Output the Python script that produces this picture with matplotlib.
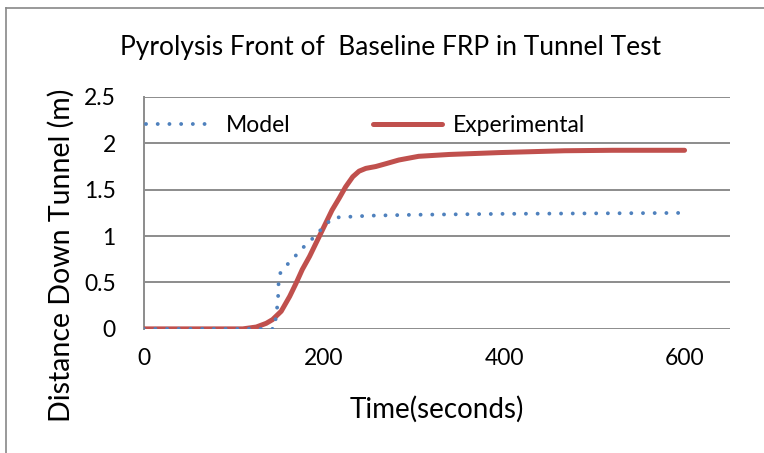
import matplotlib.pyplot as plt
from matplotlib.lines import Line2D

# data
model_t = [0, 100, 145, 149, 150, 157, 166, 175, 184, 194, 202, 212, 250, 300, 400, 500, 600]
model_d = [0, 0, 0, 0.30, 0.58, 0.67, 0.76, 0.86, 0.94, 1.04, 1.13, 1.20, 1.22, 1.23, 1.24, 1.245, 1.25]

exp_t = [0, 100, 110, 125, 136, 143, 152.6, 162, 169, 176, 184, 191, 200, 209, 217, 224, 232,
         239, 246.5, 257.5, 268.6, 283, 294, 305, 339, 394, 467, 520, 600]
exp_d = [0, 0, 0, 0.02, 0.06, 0.10, 0.19, 0.35, 0.49, 0.64, 0.78, 0.92, 1.10, 1.28, 1.41, 1.53, 1.64,
         1.70, 1.73, 1.75, 1.78, 1.82, 1.84, 1.86, 1.88, 1.90, 1.92, 1.925, 1.925]

xticks = [0, 200, 400, 600]
yticks = [0, 0.5, 1, 1.5, 2, 2.5]
ytick_labels = ['0', '0.5', '1', '1.5', '2', '2.5']

plt.rcParams['font.family'] = ['Lato', 'DejaVu Sans']

blue = '#4F81BD'
red = '#C0504D'
grid = '#8C8C8C'

fig = plt.figure(figsize=(7.64, 4.53), dpi=100)
ax = fig.add_axes([0.188, 0.274, 0.767, 0.512])

for y in yticks:
    ax.axhline(y, color=grid, lw=1.4, zorder=1)

ax.plot(exp_t, exp_d, color=red, lw=3.6, solid_capstyle='round', solid_joinstyle='round', zorder=3)
ax.plot(model_t, model_d, color=blue, lw=2.8, linestyle=(0, (0.01, 3.0)), dash_capstyle='round', zorder=4)

ax.set_xlim(0, 650)
ax.set_ylim(0, 2.5)
ax.set_xticks(xticks)
ax.set_yticks(yticks)
ax.set_yticklabels(ytick_labels)
ax.tick_params(length=0, labelsize=16.5)
ax.tick_params(axis='y', pad=20)
ax.tick_params(axis='x', pad=14)
for s in ['top', 'right', 'bottom']:
    ax.spines[s].set_visible(False)
ax.spines['left'].set_color(grid)
ax.spines['left'].set_linewidth(1.4)

ax.set_title('Pyrolysis Front of  Baseline FRP in Tunnel Test', fontsize=19, pad=30, x=0.422)
ax.set_xlabel('Time(seconds)', fontsize=20, labelpad=19)
ax.set_ylabel('Distance Down Tunnel (m)', fontsize=20.5)
ax.yaxis.set_label_coords(-0.118, 0.319)

h_model = Line2D([], [], color=blue, lw=2.8, linestyle=(0, (0.01, 3.0)), dash_capstyle='round')
h_exp = Line2D([], [], color=red, lw=3.6, solid_capstyle='round')
ax.legend([h_model, h_exp], ['Model', 'Experimental'], ncol=2, frameon=False,
          loc='center left', bbox_to_anchor=(-0.012, 0.875), fontsize=16.5,
          handlelength=3.0, handletextpad=0.5, columnspacing=3.6, borderaxespad=0)

# outer chart border (partially visible in the reference)
fig.add_artist(Line2D([6 / 764, 1], [1 - 8 / 453, 1 - 8 / 453], color='#888888', lw=1.2))
fig.add_artist(Line2D([6 / 764, 6 / 764], [0, 1 - 8 / 453], color='#888888', lw=1.2))

fig.savefig('out.png', dpi=100)
